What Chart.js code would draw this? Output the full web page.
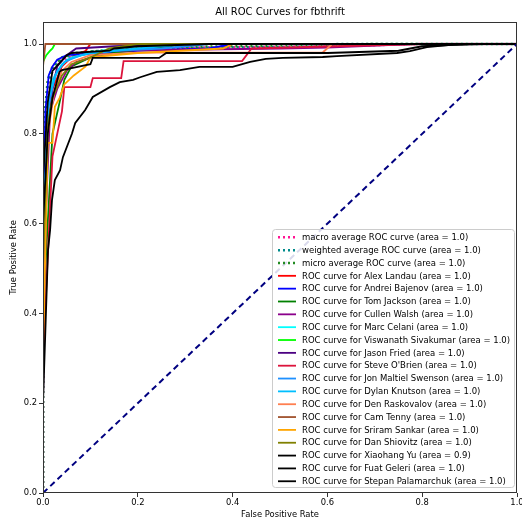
<!DOCTYPE html>
<html>
<head>
<meta charset="utf-8">
<script src="https://cdn.jsdelivr.net/npm/chart.js@4/dist/chart.umd.min.js"></script>
<style>
  html, body { margin: 0; padding: 0; background: #fff; }
  #wrap { width: 522px; height: 522px; }
</style>
</head>
<body>
<div id="wrap"><canvas id="roc" width="522" height="522"></canvas></div>
<script>
// ---- ROC data (false positive rate / true positive rate) ----
const titleText = 'All ROC Curves for fbthrift';
const tickValues = [0.0, 0.2, 0.4, 0.6, 0.8, 1.0];

const macroFpr = [0, 0, 0.01, 0.02, 0.04, 0.07, 0.1, 0.2, 0.4, 0.6, 0.8, 1];
const macroTpr = [0, 0.75, 0.9, 0.94, 0.965, 0.975, 0.98, 0.99, 0.993, 0.995, 1, 1];
const weightedFpr = [0, 0, 0.01, 0.02, 0.04, 0.07, 0.1, 0.2, 0.43, 0.6, 0.62, 1];
const weightedTpr = [0, 0.78, 0.91, 0.945, 0.968, 0.978, 0.983, 0.99, 0.993, 0.994, 1, 1];
const microFpr = [0, 0, 0.01, 0.02, 0.04, 0.07, 0.12, 0.2, 0.4, 0.7, 1];
const microTpr = [0, 0.8, 0.92, 0.95, 0.97, 0.98, 0.985, 0.992, 0.995, 1, 1];

const alexFpr = [0, 0, 0.01, 0.02, 0.04, 0.06, 0.09, 0.1, 1];
const alexTpr = [0, 0.5, 0.8, 0.9, 0.95, 0.97, 0.985, 1, 1];
const andreiFpr = [0, 0, 0.005, 0.012, 0.02, 0.03, 0.05, 0.2, 0.35, 0.4, 1];
const andreiTpr = [0, 0.6, 0.85, 0.93, 0.95, 0.965, 0.975, 0.985, 0.99, 1, 1];
const tomFpr = [0, 0, 0.02, 0.035, 0.045, 0.06, 0.1, 0.15, 0.22, 0.3, 1];
const tomTpr = [0, 0.4, 0.8, 0.87, 0.92, 0.95, 0.97, 0.98, 0.99, 1, 1];
const cullenFpr = [0, 0, 0.005, 0.015, 0.03, 0.05, 0.07, 0.12, 0.13, 0.5, 0.6, 0.78, 1];
const cullenTpr = [0, 0.2, 0.6, 0.85, 0.9, 0.94, 0.96, 0.975, 0.985, 0.99, 0.992, 1, 1];
const marcFpr = [0, 0, 0.01, 0.02, 0.04, 0.06, 0.1, 0.15, 0.25, 1];
const marcTpr = [0, 0.55, 0.85, 0.92, 0.955, 0.97, 0.98, 0.99, 1, 1];
const viswanathFpr = [0, 0, 0.007, 0.015, 0.02, 0.025, 1];
const viswanathTpr = [0, 0.96, 0.975, 0.985, 0.99, 1, 1];
const jasonFpr = [0, 0, 0.01, 0.02, 0.03, 0.05, 0.07, 0.15, 0.3, 1];
const jasonTpr = [0, 0.3, 0.8, 0.9, 0.95, 0.975, 0.99, 0.995, 1, 1];
const steveFpr = [0, 0, 0.02, 0.04, 0.045, 0.1, 0.105, 0.165, 0.17, 0.42, 0.44, 0.8, 1];
const steveTpr = [0, 0.3, 0.75, 0.85, 0.904, 0.904, 0.924, 0.924, 0.962, 0.962, 0.99, 1, 1];
const jonFpr = [0, 0, 0.01, 0.025, 0.045, 0.08, 0.15, 0.25, 0.35, 1];
const jonTpr = [0, 0.5, 0.85, 0.93, 0.96, 0.975, 0.985, 0.99, 1, 1];
const dylanFpr = [0, 0, 0.012, 0.03, 0.05, 0.1, 0.2, 0.3, 1];
const dylanTpr = [0, 0.55, 0.88, 0.94, 0.965, 0.98, 0.99, 1, 1];
const denFpr = [0, 0, 0.01, 0.025, 0.04, 0.06, 0.1, 0.2, 0.59, 0.61, 1];
const denTpr = [0, 0.4, 0.8, 0.9, 0.94, 0.96, 0.975, 0.981, 0.981, 1, 1];
const camFpr = [0, 0, 0.005, 1];
const camTpr = [0, 0.95, 1, 1];
const sriramFpr = [0, 0, 0.01, 0.02, 0.025, 0.035, 0.045, 0.065, 0.09, 0.1, 0.2, 0.38, 0.4, 1];
const sriramTpr = [0, 0.3, 0.78, 0.78, 0.86, 0.88, 0.91, 0.93, 0.95, 0.97, 0.98, 0.99, 1, 1];
const danFpr = [0, 0, 0.01, 0.02, 0.04, 0.06, 0.1, 0.14, 0.2, 1];
const danTpr = [0, 0.5, 0.82, 0.88, 0.93, 0.955, 0.97, 0.99, 1, 1];
const xiaohangFpr = [0, 0, 0.0105, 0.015, 0.019, 0.025, 0.036, 0.042, 0.061, 0.068, 0.089, 0.105, 0.141, 0.162, 0.19, 0.205, 0.24, 0.289, 0.33, 0.4, 0.437, 0.47, 0.506, 0.59, 0.62, 0.747, 0.774, 0.81, 0.86, 0.93, 1];
const xiaohangTpr = [0, 0.2, 0.54, 0.586, 0.653, 0.697, 0.719, 0.748, 0.8, 0.824, 0.853, 0.882, 0.904, 0.915, 0.92, 0.926, 0.938, 0.942, 0.949, 0.949, 0.96, 0.967, 0.969, 0.971, 0.973, 0.98, 0.984, 0.993, 0.998, 1, 1];
const fuatFpr = [0, 0, 0.01, 0.02, 0.035, 0.04, 0.1, 0.105, 0.245, 0.26, 0.6, 0.75, 0.8, 0.9, 1];
const fuatTpr = [0, 0.6, 0.8, 0.88, 0.938, 0.942, 0.955, 0.969, 0.969, 0.98, 0.98, 0.985, 0.995, 1, 1];
const stepanFpr = [0, 0, 0.01, 0.02, 0.05, 0.06, 0.14, 0.15, 0.2, 0.35, 1];
const stepanTpr = [0, 0.7, 0.87, 0.94, 0.975, 0.98, 0.985, 0.99, 0.995, 1, 1];

const chanceFpr = [0, 1];
const chanceTpr = [0, 1];

// label, fpr, tpr, colour, dotted?
const curves = [
  ['macro average ROC curve (area = 1.0)', macroFpr, macroTpr, 'deeppink', true],
  ['weighted average ROC curve (area = 1.0)', weightedFpr, weightedTpr, 'darkcyan', true],
  ['micro average ROC curve (area = 1.0)', microFpr, microTpr, 'forestgreen', true],
  ['ROC curve for Alex Landau (area = 1.0)', alexFpr, alexTpr, 'red', false],
  ['ROC curve for Andrei Bajenov (area = 1.0)', andreiFpr, andreiTpr, 'blue', false],
  ['ROC curve for Tom Jackson (area = 1.0)', tomFpr, tomTpr, 'green', false],
  ['ROC curve for Cullen Walsh (area = 1.0)', cullenFpr, cullenTpr, 'darkmagenta', false],
  ['ROC curve for Marc Celani (area = 1.0)', marcFpr, marcTpr, 'aqua', false],
  ['ROC curve for Viswanath Sivakumar (area = 1.0)', viswanathFpr, viswanathTpr, 'lime', false],
  ['ROC curve for Jason Fried (area = 1.0)', jasonFpr, jasonTpr, 'indigo', false],
  ["ROC curve for Steve O'Brien (area = 1.0)", steveFpr, steveTpr, 'crimson', false],
  ['ROC curve for Jon Maltiel Swenson (area = 1.0)', jonFpr, jonTpr, 'dodgerblue', false],
  ['ROC curve for Dylan Knutson (area = 1.0)', dylanFpr, dylanTpr, 'deepskyblue', false],
  ['ROC curve for Den Raskovalov (area = 1.0)', denFpr, denTpr, 'coral', false],
  ['ROC curve for Cam Tenny (area = 1.0)', camFpr, camTpr, 'sienna', false],
  ['ROC curve for Sriram Sankar (area = 1.0)', sriramFpr, sriramTpr, 'orange', false],
  ['ROC curve for Dan Shiovitz (area = 1.0)', danFpr, danTpr, 'olive', false],
  ['ROC curve for Xiaohang Yu (area = 0.9)', xiaohangFpr, xiaohangTpr, 'black', false],
  ['ROC curve for Fuat Geleri (area = 1.0)', fuatFpr, fuatTpr, 'black', false],
  ['ROC curve for Stepan Palamarchuk (area = 1.0)', stepanFpr, stepanTpr, 'black', false]
];

const FONT = 'DejaVu Sans';
const DOT = [2, 3];
const SOLID_W = 1.8;
const DOT_W = 2.5;

const datasets = curves.map(([label, fpr, tpr, color, dotted], i) => ({
  label,
  data: fpr.map((x, k) => ({ x, y: tpr[k] })),
  borderColor: color,
  backgroundColor: color,
  borderWidth: dotted ? DOT_W : SOLID_W,
  borderDash: dotted ? DOT : [],
  pointRadius: 0,
  tension: 0,
  fill: false,
  order: 100 - i
}));
datasets.push({
  label: 'chance',
  data: chanceFpr.map((x, k) => ({ x, y: chanceTpr[k] })),
  borderColor: 'navy',
  borderWidth: 2,
  borderDash: [6, 4],
  pointRadius: 0,
  fill: false,
  order: 0,
  hideInLegend: true
});

// Frame around the plotting area, title, and a boxed legend in the lower right
const decorations = {
  id: 'decorations',
  afterDatasetsDraw(chart) {
    const { ctx, chartArea: a } = chart;
    ctx.save();
    ctx.strokeStyle = '#333';
    ctx.lineWidth = 1;
    ctx.strokeRect(a.left + 0.5, a.top + 0.5, a.right - a.left - 1, a.bottom - a.top - 1);
    ctx.restore();
  },
  afterDraw(chart) {
    const { ctx, chartArea: a } = chart;
    ctx.save();
    ctx.fillStyle = '#000';
    ctx.font = '10px "' + FONT + '"';
    ctx.textAlign = 'center';
    ctx.textBaseline = 'middle';
    ctx.fillText(titleText, (a.left + a.right) / 2, 12);

    // legend
    const items = chart.data.datasets.filter(d => !d.hideInLegend);
    const bx = 272.5, by = 229.5, bw = 242, bh = 258;
    ctx.fillStyle = 'rgba(255,255,255,0.85)';
    ctx.strokeStyle = '#ccc';
    ctx.lineWidth = 1;
    ctx.beginPath();
    ctx.roundRect(bx, by, bw, bh, 3);
    ctx.fill();
    ctx.stroke();
    ctx.font = '8.5px "' + FONT + '"';
    ctx.textAlign = 'left';
    items.forEach((d, i) => {
      const y = 237.3 + i * 12.84;
      const dotted = d.borderDash && d.borderDash.length;
      ctx.beginPath();
      ctx.setLineDash(d.borderDash || []);
      ctx.strokeStyle = d.borderColor;
      ctx.lineWidth = dotted ? DOT_W : SOLID_W;
      ctx.moveTo(278, y);
      ctx.lineTo(296, y);
      ctx.stroke();
      ctx.setLineDash([]);
      ctx.fillStyle = '#000';
      ctx.fillText(d.label, 302, y + 0.5);
    });
    ctx.restore();
  }
};

new Chart(document.getElementById('roc'), {
  type: 'line',
  data: { datasets },
  options: {
    responsive: false,
    animation: false,
    devicePixelRatio: 1,
    layout: { padding: { top: 22, right: 5, left: 0, bottom: 0 } },
    plugins: { legend: { display: false }, tooltip: { enabled: false }, title: { display: false } },
    scales: {
      x: {
        type: 'linear',
        min: 0,
        max: 1,
        afterFit(s) { s.height = 29; s.paddingLeft = 0; s.paddingRight = 0; },
        afterBuildTicks(s) { s.ticks = tickValues.map(v => ({ value: v })); },
        ticks: {
          font: { family: FONT, size: 8.4 },
          color: '#000',
          padding: 1,
          maxRotation: 0,
          callback: v => Number(v).toFixed(1)
        },
        grid: { display: true, drawOnChartArea: false, drawTicks: true, tickLength: 4, color: '#333' },
        border: { display: false },
        title: {
          display: true,
          text: 'False Positive Rate',
          font: { family: FONT, size: 8.4 },
          color: '#000',
          padding: { top: 0, bottom: 2 }
        }
      },
      y: {
        type: 'linear',
        min: 0,
        max: 1.049,
        afterFit(s) { s.width = 43; s.paddingTop = 0; s.paddingBottom = 0; },
        afterBuildTicks(s) { s.ticks = tickValues.map(v => ({ value: v })); },
        ticks: {
          font: { family: FONT, size: 8.4 },
          color: '#000',
          padding: 2,
          callback: v => Number(v).toFixed(1)
        },
        grid: { display: true, drawOnChartArea: false, drawTicks: true, tickLength: 4, color: '#333' },
        border: { display: false },
        title: {
          display: true,
          text: 'True Positive Rate',
          font: { family: FONT, size: 8.4 },
          color: '#000',
          padding: { top: 9, bottom: 0 }
        }
      }
    }
  },
  plugins: [decorations]
});
</script>
</body>
</html>
